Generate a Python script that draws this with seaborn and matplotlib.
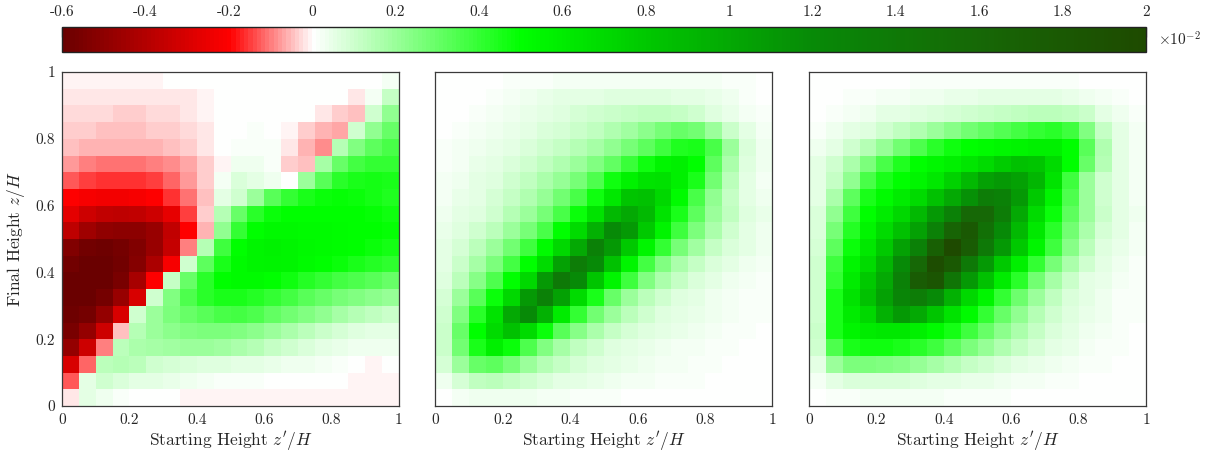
import numpy as np
import pandas as pd
import matplotlib
matplotlib.use('Agg')
import matplotlib.pyplot as plt
from matplotlib.colors import LinearSegmentedColormap
import seaborn as sns

# cell centres (starting height z'/H, final height z/H), rows listed top -> bottom
start_h = [0.025, 0.075, 0.125, 0.175, 0.225, 0.275, 0.325, 0.375, 0.425, 0.475,
           0.525, 0.575, 0.625, 0.675, 0.725, 0.775, 0.825, 0.875, 0.925, 0.975]
final_h = start_h[::-1]

# values in units of 1e-2
panel_a = [
    [-0.01, -0.01, -0.01, -0.01, -0.01, -0.005, 0, 0, 0, 0, 0, 0, 0, 0, 0, 0, 0, 0, 0, 0.02],
    [-0.02, -0.02, -0.02, -0.02, -0.02, -0.02, -0.02, -0.015, -0.005, 0, 0, 0, 0, 0, 0, 0, 0, -0.02, 0.02, 0.12],
    [-0.03, -0.03, -0.03, -0.035, -0.035, -0.03, -0.025, -0.02, -0.01, 0, 0, 0.005, 0.005, 0, 0, -0.02, -0.04, -0.05, 0.1, 0.22],
    [-0.04, -0.04, -0.045, -0.045, -0.045, -0.04, -0.035, -0.025, -0.015, 0, 0.005, 0.01, 0.005, -0.01, -0.04, -0.06, -0.07, 0.1, 0.22, 0.3],
    [-0.05, -0.055, -0.06, -0.06, -0.06, -0.055, -0.05, -0.035, -0.015, 0, 0.01, 0.015, 0.01, -0.02, -0.06, -0.09, 0.15, 0.25, 0.32, 0.36],
    [-0.08, -0.1, -0.105, -0.11, -0.11, -0.1, -0.09, -0.07, -0.04, -0.005, 0.03, 0.03, 0.01, -0.04, -0.05, 0.18, 0.3, 0.37, 0.4, 0.4],
    [-0.13, -0.15, -0.16, -0.16, -0.16, -0.15, -0.12, -0.08, -0.04, 0.02, 0.08, 0.05, 0.03, 0.0, 0.2, 0.33, 0.42, 0.45, 0.46, 0.45],
    [-0.2, -0.22, -0.23, -0.23, -0.22, -0.2, -0.16, -0.11, -0.05, 0.06, 0.1, 0.2, 0.33, 0.4, 0.45, 0.48, 0.49, 0.48, 0.46, 0.44],
    [-0.27, -0.33, -0.36, -0.37, -0.36, -0.33, -0.26, -0.15, -0.04, 0.15, 0.3, 0.42, 0.48, 0.5, 0.5, 0.5, 0.5, 0.5, 0.49, 0.47],
    [-0.37, -0.45, -0.49, -0.5, -0.5, -0.47, -0.36, -0.2, -0.06, 0.22, 0.4, 0.5, 0.53, 0.53, 0.52, 0.52, 0.51, 0.5, 0.5, 0.49],
    [-0.53, -0.57, -0.58, -0.56, -0.53, -0.47, -0.35, -0.1, 0.15, 0.38, 0.5, 0.55, 0.57, 0.55, 0.53, 0.52, 0.51, 0.5, 0.48, 0.46],
    [-0.57, -0.6, -0.6, -0.57, -0.52, -0.42, -0.22, 0.1, 0.32, 0.45, 0.52, 0.55, 0.56, 0.55, 0.52, 0.5, 0.48, 0.45, 0.43, 0.41],
    [-0.59, -0.6, -0.59, -0.55, -0.43, -0.2, 0.12, 0.3, 0.42, 0.5, 0.52, 0.52, 0.5, 0.47, 0.43, 0.4, 0.37, 0.35, 0.33, 0.3],
    [-0.59, -0.59, -0.56, -0.47, -0.3, 0.1, 0.25, 0.35, 0.42, 0.45, 0.45, 0.43, 0.4, 0.37, 0.33, 0.3, 0.27, 0.25, 0.23, 0.21],
    [-0.58, -0.56, -0.48, -0.3, 0.1, 0.2, 0.26, 0.3, 0.33, 0.36, 0.37, 0.35, 0.31, 0.28, 0.25, 0.22, 0.18, 0.15, 0.13, 0.11],
    [-0.55, -0.48, -0.33, -0.05, 0.15, 0.2, 0.23, 0.25, 0.26, 0.26, 0.25, 0.23, 0.2, 0.17, 0.14, 0.11, 0.09, 0.07, 0.06, 0.05],
    [-0.48, -0.33, -0.1, 0.14, 0.17, 0.18, 0.19, 0.2, 0.2, 0.19, 0.17, 0.15, 0.12, 0.1, 0.08, 0.06, 0.045, 0.035, 0.03, 0.03],
    [-0.3, -0.12, 0.14, 0.15, 0.14, 0.1, 0.09, 0.08, 0.07, 0.065, 0.06, 0.05, 0.04, 0.03, 0.03, 0.02, 0.01, 0, -0.005, 0],
    [-0.13, 0.05, 0.1, 0.08, 0.06, 0.05, 0.04, 0.03, 0.02, 0.015, 0.01, 0.01, 0.005, 0, 0, 0, 0, -0.01, -0.01, -0.01],
    [-0.02, 0.05, 0.03, 0.01, 0, 0, 0, -0.01, -0.01, -0.01, -0.01, -0.01, -0.01, -0.01, -0.01, -0.01, -0.01, -0.01, -0.01, -0.01],
]

panel_b = [
    [0, 0, 0, 0.005, 0.01, 0.01, 0.015, 0.02, 0.02, 0.02, 0.025, 0.025, 0.025, 0.025, 0.025, 0.02, 0.02, 0.015, 0.01, 0.005],
    [0, 0, 0.005, 0.01, 0.02, 0.03, 0.04, 0.05, 0.055, 0.06, 0.065, 0.065, 0.065, 0.065, 0.06, 0.05, 0.04, 0.03, 0.015, 0.005],
    [0, 0.005, 0.01, 0.02, 0.03, 0.04, 0.055, 0.07, 0.085, 0.1, 0.11, 0.12, 0.13, 0.13, 0.12, 0.1, 0.07, 0.04, 0.02, 0.01],
    [0.005, 0.01, 0.02, 0.03, 0.045, 0.06, 0.075, 0.09, 0.11, 0.13, 0.16, 0.19, 0.23, 0.27, 0.3, 0.28, 0.2, 0.11, 0.05, 0.02],
    [0.01, 0.02, 0.03, 0.045, 0.06, 0.08, 0.1, 0.12, 0.15, 0.18, 0.22, 0.27, 0.32, 0.38, 0.44, 0.45, 0.36, 0.2, 0.08, 0.03],
    [0.015, 0.025, 0.04, 0.06, 0.08, 0.1, 0.13, 0.16, 0.2, 0.25, 0.31, 0.39, 0.47, 0.55, 0.58, 0.5, 0.32, 0.17, 0.07, 0.03],
    [0.02, 0.03, 0.05, 0.07, 0.1, 0.13, 0.17, 0.21, 0.27, 0.35, 0.47, 0.57, 0.65, 0.66, 0.58, 0.45, 0.28, 0.14, 0.06, 0.025],
    [0.02, 0.04, 0.06, 0.085, 0.12, 0.16, 0.21, 0.28, 0.36, 0.47, 0.62, 0.82, 0.85, 0.72, 0.52, 0.36, 0.22, 0.12, 0.06, 0.03],
    [0.03, 0.05, 0.07, 0.1, 0.15, 0.2, 0.27, 0.36, 0.48, 0.65, 0.9, 1.0, 0.9, 0.65, 0.45, 0.32, 0.2, 0.13, 0.07, 0.04],
    [0.04, 0.07, 0.1, 0.14, 0.2, 0.27, 0.36, 0.5, 0.7, 0.95, 1.2, 1.1, 0.8, 0.56, 0.38, 0.26, 0.17, 0.1, 0.06, 0.03],
    [0.05, 0.09, 0.14, 0.2, 0.28, 0.38, 0.52, 0.72, 1.0, 1.3, 1.1, 0.8, 0.55, 0.4, 0.27, 0.19, 0.12, 0.08, 0.05, 0.03],
    [0.06, 0.11, 0.18, 0.26, 0.37, 0.5, 0.7, 1.05, 1.35, 1.2, 0.85, 0.55, 0.37, 0.25, 0.17, 0.12, 0.08, 0.05, 0.03, 0.02],
    [0.07, 0.14, 0.24, 0.35, 0.5, 0.72, 1.1, 1.4, 1.2, 0.82, 0.55, 0.38, 0.25, 0.17, 0.12, 0.08, 0.05, 0.03, 0.02, 0.01],
    [0.09, 0.2, 0.33, 0.48, 0.72, 1.1, 1.3, 1.05, 0.7, 0.45, 0.3, 0.2, 0.14, 0.1, 0.07, 0.05, 0.03, 0.02, 0.01, 0.01],
    [0.1, 0.25, 0.42, 0.65, 1.0, 1.2, 0.95, 0.6, 0.4, 0.28, 0.2, 0.14, 0.1, 0.07, 0.05, 0.04, 0.03, 0.02, 0.01, 0.01],
    [0.11, 0.3, 0.5, 0.7, 0.85, 0.7, 0.48, 0.33, 0.24, 0.17, 0.12, 0.09, 0.07, 0.05, 0.04, 0.03, 0.02, 0.01, 0.01, 0.005],
    [0.11, 0.28, 0.45, 0.58, 0.48, 0.35, 0.25, 0.18, 0.13, 0.1, 0.07, 0.055, 0.04, 0.03, 0.025, 0.02, 0.015, 0.01, 0.005, 0.005],
    [0.09, 0.2, 0.3, 0.32, 0.27, 0.2, 0.15, 0.12, 0.09, 0.07, 0.05, 0.04, 0.03, 0.025, 0.02, 0.015, 0.01, 0.005, 0, 0],
    [0.03, 0.09, 0.13, 0.14, 0.12, 0.1, 0.08, 0.06, 0.05, 0.04, 0.03, 0.025, 0.02, 0.015, 0.01, 0.01, 0.005, 0, 0, 0],
    [0.005, 0.02, 0.03, 0.035, 0.035, 0.03, 0.025, 0.02, 0.015, 0.01, 0.01, 0.005, 0.005, 0, 0, 0, 0, 0, 0, 0],
]

panel_c = [
    [0, 0, 0, 0, 0.005, 0.005, 0.01, 0.01, 0.01, 0.015, 0.015, 0.015, 0.015, 0.015, 0.01, 0.01, 0.005, 0.005, 0, 0],
    [0, 0.005, 0.01, 0.015, 0.02, 0.025, 0.03, 0.035, 0.04, 0.045, 0.05, 0.05, 0.05, 0.05, 0.05, 0.045, 0.035, 0.02, 0.01, 0.005],
    [0.005, 0.01, 0.02, 0.035, 0.05, 0.06, 0.07, 0.08, 0.09, 0.1, 0.11, 0.12, 0.13, 0.14, 0.14, 0.13, 0.11, 0.06, 0.03, 0.01],
    [0.015, 0.03, 0.05, 0.07, 0.1, 0.13, 0.16, 0.2, 0.24, 0.28, 0.31, 0.34, 0.37, 0.4, 0.42, 0.38, 0.25, 0.12, 0.05, 0.02],
    [0.03, 0.06, 0.1, 0.15, 0.21, 0.28, 0.35, 0.42, 0.47, 0.5, 0.52, 0.54, 0.56, 0.58, 0.58, 0.5, 0.33, 0.16, 0.06, 0.02],
    [0.05, 0.1, 0.17, 0.26, 0.36, 0.44, 0.5, 0.54, 0.58, 0.63, 0.7, 0.78, 0.85, 0.82, 0.7, 0.5, 0.3, 0.15, 0.06, 0.02],
    [0.05, 0.12, 0.22, 0.36, 0.45, 0.5, 0.55, 0.62, 0.75, 0.9, 1.05, 1.1, 1.05, 0.92, 0.65, 0.38, 0.2, 0.1, 0.05, 0.02],
    [0.06, 0.17, 0.32, 0.45, 0.52, 0.6, 0.7, 0.85, 1.0, 1.15, 1.35, 1.3, 1.1, 0.8, 0.55, 0.35, 0.2, 0.1, 0.05, 0.02],
    [0.08, 0.22, 0.38, 0.5, 0.6, 0.72, 0.9, 1.1, 1.3, 1.6, 1.6, 1.35, 1.0, 0.7, 0.48, 0.32, 0.2, 0.11, 0.06, 0.03],
    [0.08, 0.27, 0.43, 0.55, 0.7, 0.85, 1.05, 1.3, 1.65, 1.8, 1.5, 1.2, 0.9, 0.62, 0.42, 0.28, 0.17, 0.09, 0.05, 0.02],
    [0.09, 0.32, 0.48, 0.62, 0.8, 1.05, 1.3, 1.7, 2.0, 1.75, 1.4, 1.1, 0.8, 0.55, 0.38, 0.24, 0.14, 0.07, 0.04, 0.02],
    [0.1, 0.38, 0.55, 0.7, 0.92, 1.2, 1.6, 1.95, 1.8, 1.4, 1.1, 0.8, 0.58, 0.4, 0.27, 0.17, 0.1, 0.05, 0.03, 0.01],
    [0.1, 0.4, 0.6, 0.8, 1.0, 1.3, 1.75, 1.85, 1.45, 1.1, 0.85, 0.6, 0.42, 0.28, 0.18, 0.11, 0.06, 0.04, 0.02, 0.01],
    [0.1, 0.45, 0.65, 0.85, 1.05, 1.25, 1.35, 1.2, 0.95, 0.72, 0.55, 0.4, 0.29, 0.2, 0.13, 0.08, 0.05, 0.03, 0.015, 0.01],
    [0.1, 0.45, 0.6, 0.72, 0.95, 1.1, 1.0, 0.82, 0.65, 0.52, 0.4, 0.3, 0.22, 0.15, 0.1, 0.07, 0.04, 0.03, 0.015, 0.01],
    [0.11, 0.45, 0.55, 0.6, 0.62, 0.62, 0.58, 0.52, 0.46, 0.38, 0.3, 0.23, 0.17, 0.12, 0.08, 0.05, 0.03, 0.02, 0.01, 0.005],
    [0.1, 0.35, 0.45, 0.47, 0.47, 0.45, 0.42, 0.38, 0.32, 0.26, 0.21, 0.16, 0.12, 0.09, 0.06, 0.04, 0.025, 0.015, 0.01, 0.005],
    [0.06, 0.2, 0.26, 0.26, 0.25, 0.24, 0.21, 0.18, 0.15, 0.12, 0.1, 0.08, 0.06, 0.045, 0.035, 0.025, 0.015, 0.01, 0.005, 0],
    [0.02, 0.06, 0.08, 0.08, 0.08, 0.075, 0.07, 0.06, 0.05, 0.045, 0.04, 0.03, 0.025, 0.02, 0.015, 0.01, 0.005, 0, 0, 0],
    [0, 0.01, 0.015, 0.02, 0.02, 0.02, 0.02, 0.02, 0.015, 0.015, 0.01, 0.01, 0.005, 0.005, 0, 0, 0, 0, 0, 0],
]

cbar_ticks = [-0.6, -0.4, -0.2, 0, 0.2, 0.4, 0.6, 0.8, 1, 1.2, 1.4, 1.6, 1.8, 2]
cbar_labels = ['-0.6', '-0.4', '-0.2', '0', '0.2', '0.4', '0.6', '0.8', '1',
               '1.2', '1.4', '1.6', '1.8', '2']
axis_ticks = ['0', '0.2', '0.4', '0.6', '0.8', '1']

# red - white - green colour map
cmap_nodes = [(-0.6, '#6a0000'), (-0.2, '#ff0000'), (0.0, '#ffffff'), (0.5, '#00ff00'),
              (0.8, '#00c800'), (1.2, '#078a07'), (1.6, '#166806'), (2.0, '#1e4a00')]
vmin, vmax = -0.6, 2.0
cmap = LinearSegmentedColormap.from_list(
    'rwg', [((v - vmin) / (vmax - vmin), c) for v, c in cmap_nodes], N=256)

sns.set_style('white')
plt.rcParams['font.family'] = ['cmr10', 'DejaVu Serif']
plt.rcParams['mathtext.fontset'] = 'cm'
plt.rcParams['axes.unicode_minus'] = False
plt.rcParams['axes.formatter.use_mathtext'] = True

W, H = 1214, 457
fig = plt.figure(figsize=(W / 100, H / 100), dpi=100)

lefts = [62, 435.5, 809]
mesh = None
for k, (grid, left) in enumerate(zip([panel_a, panel_b, panel_c], lefts)):
    ax = fig.add_axes([left / W, 51 / H, 337 / W, 334 / H])
    df = pd.DataFrame(grid, index=final_h, columns=start_h)
    sns.heatmap(df, ax=ax, cmap=cmap, vmin=vmin, vmax=vmax, cbar=False,
                xticklabels=False, yticklabels=False)
    mesh = ax.collections[0]
    n = len(start_h)
    ax.set_xticks(np.linspace(0, n, 6))
    ax.set_xticklabels(axis_ticks)
    ax.set_xlabel("Starting Height $z'/H$", fontsize=12.5, labelpad=2)
    if k == 0:
        ax.set_yticks(np.linspace(n, 0, 6))
        ax.set_yticklabels(axis_ticks, rotation=0)
        ax.set_ylabel('Final Height $z/H$', fontsize=12.5, labelpad=6)
    else:
        ax.set_yticks([])
    ax.tick_params(length=0, labelsize=11, pad=5)
    for sp in ax.spines.values():
        sp.set_visible(True)
        sp.set_color('#3a3a3a')
        sp.set_linewidth(0.9)

cax = fig.add_axes([62 / W, (H - 52.3) / H, 1084 / W, 25 / H])
cb = fig.colorbar(mesh, cax=cax, orientation='horizontal')
cb.set_ticks(cbar_ticks)
cb.set_ticklabels(cbar_labels)
cax.xaxis.set_ticks_position('top')
cax.tick_params(direction='in', length=7, width=0.9, color='#333333',
                labelsize=11, pad=6)
cb.outline.set_linewidth(1.0)
cb.outline.set_edgecolor('#222222')
fig.text(1158 / W, 1 - 40 / H, r'$\times10^{-2}$', fontsize=11, va='center', ha='left')

fig.savefig('out.png', dpi=100)
